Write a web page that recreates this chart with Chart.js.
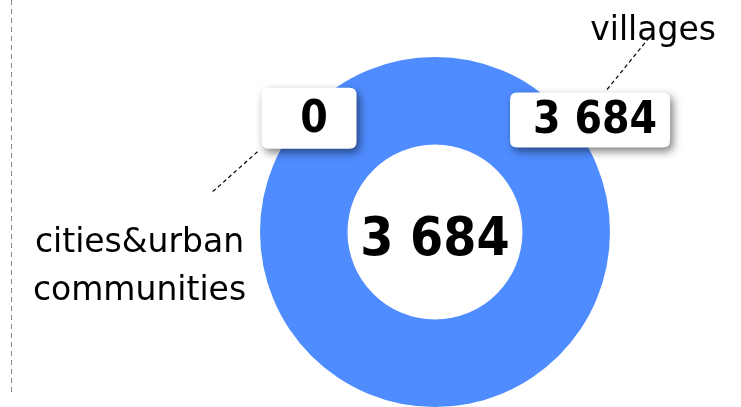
<!DOCTYPE html>
<html><head><meta charset="utf-8">
<script src="https://cdn.jsdelivr.net/npm/chart.js@4/dist/chart.umd.min.js"></script>
<style>html,body{margin:0;padding:0;background:#fff;}#wrap{width:741px;height:407px;position:relative;}</style>
</head><body><div id="wrap"><canvas id="c" width="741" height="407"></canvas></div>
<script>
const categories = ["cities&urban communities", "villages"];
const categoryLines = [["cities&urban", "communities"], ["villages"]];
const values = [0, 3684];
const colors = ["#e8a33c", "#4f8cff"];

function fmt(n){ return String(n).replace(/\B(?=(\d{3})+(?!\d))/g, " "); }
const total = values.reduce((a,b)=>a+b,0);
const FONT = '"DejaVu Sans Condensed", "DejaVu Sans", sans-serif';
const LFONT = '"DejaVu Sans", sans-serif';

function roundRect(ctx,x,y,w,h,r){
  ctx.beginPath();
  ctx.moveTo(x+r,y);ctx.lineTo(x+w-r,y);ctx.quadraticCurveTo(x+w,y,x+w,y+r);
  ctx.lineTo(x+w,y+h-r);ctx.quadraticCurveTo(x+w,y+h,x+w-r,y+h);
  ctx.lineTo(x+r,y+h);ctx.quadraticCurveTo(x,y+h,x,y+h-r);
  ctx.lineTo(x,y+r);ctx.quadraticCurveTo(x,y,x+r,y);ctx.closePath();
}

// label layout (relative to doughnut centre, in outer-radius units)
const boxPos = [{bx:-0.72, by:-0.65, w:95, side:-1}, {bx:0.886, by:-0.64, w:160, side:1}];

const labelsPlugin = {
  id:'labels',
  beforeDraw(chart){
    const ctx = chart.ctx;
    ctx.save();
    ctx.strokeStyle = '#8a8a8a';
    ctx.lineWidth = 1;
    ctx.setLineDash([5,4]);
    ctx.beginPath(); ctx.moveTo(11.5,0); ctx.lineTo(11.5,395); ctx.stroke();
    ctx.restore();
  },
  afterDatasetsDraw(chart){
    const ctx = chart.ctx;
    const arc = chart.getDatasetMeta(0).data[1];
    const cx = arc.x, cy = arc.y, R = arc.outerRadius;
    ctx.save();
    // centre total
    ctx.fillStyle = '#000';
    ctx.font = 'bold 53px ' + FONT;
    ctx.textAlign = 'center'; ctx.textBaseline = 'middle';
    ctx.fillText(fmt(total), cx, cy + 9);

    values.forEach((v,i)=>{
      const p = boxPos[i];
      const bxC = cx + p.bx*R, byC = cy + p.by*R;
      const w = p.w, h = 61 - i*6;
      const x = bxC - w/2, y = byC - h/2;
      // connector + category text
      ctx.save();
      ctx.strokeStyle = '#000'; ctx.lineWidth = 1.2; ctx.setLineDash([4,3]);
      ctx.beginPath();
      if (p.side < 0){ ctx.moveTo(x-4, y+h+3); ctx.lineTo(x-50, y+h+44); }
      else { ctx.moveTo(bxC+17, y-3); ctx.lineTo(bxC+60, y-56); }
      ctx.stroke();
      ctx.restore();
      ctx.fillStyle = '#000';
      ctx.font = '33px ' + LFONT;
      ctx.textBaseline = 'alphabetic';
      ctx.textAlign = 'center';
      if (p.side < 0){
        categoryLines[i].forEach((ln,k)=>ctx.fillText(ln, x-122, y+h+103+k*48));
      } else {
        ctx.fillText(categoryLines[i][0], bxC+63, y-53);
      }
      // box with shadow
      ctx.save();
      ctx.shadowColor = 'rgba(0,0,0,0.5)';
      ctx.shadowBlur = 8; ctx.shadowOffsetX = 3; ctx.shadowOffsetY = 4;
      ctx.fillStyle = '#fff';
      roundRect(ctx, x, y, w, h, 7);
      ctx.fill();
      ctx.restore();
      ctx.fillStyle = '#000';
      ctx.font = 'bold 44px ' + FONT;
      ctx.textAlign = 'center'; ctx.textBaseline = 'middle';
      ctx.fillText(fmt(v), bxC + 5, byC + 2);
    });
    ctx.restore();
  }
};

new Chart(document.getElementById('c'), {
  type:'doughnut',
  data:{ labels: categories, datasets:[{ data: values, backgroundColor: colors, borderWidth:0 }] },
  options:{
    responsive:false, animation:false, cutout:'50%',
    layout:{ padding:{ top:57, bottom:0, left:260, right:131 } },
    plugins:{ legend:{display:false}, tooltip:{enabled:false} }
  },
  plugins:[labelsPlugin]
});
</script></body></html>
